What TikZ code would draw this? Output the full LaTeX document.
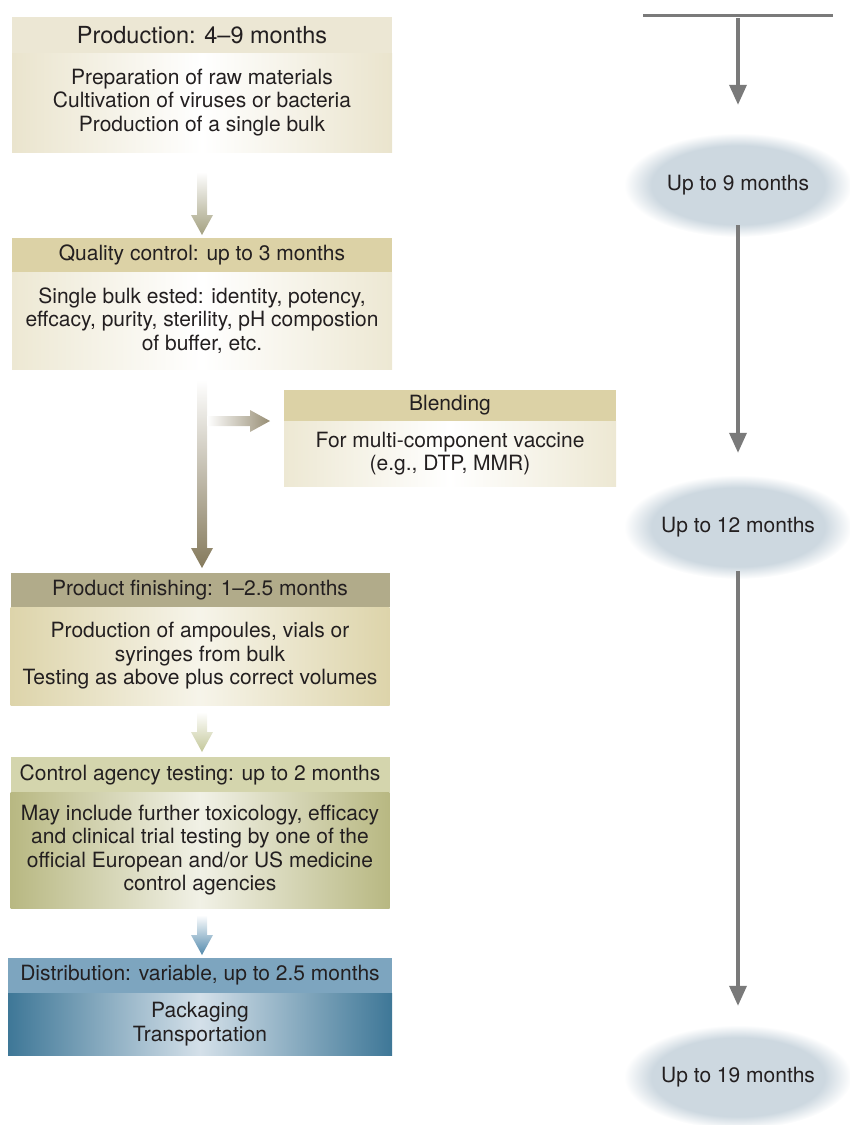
\documentclass[tikz,border=0pt]{standalone}
\usepackage{fontspec}
\setmainfont{TeX Gyre Heros}
\usetikzlibrary{calc,positioning,shapes.geometric,arrows.meta}

\definecolor{inktext}{RGB}{35,31,32}
\definecolor{prodhd}{RGB}{236,231,212}
\definecolor{prodbd}{RGB}{234,228,205}
\definecolor{qchd}{RGB}{220,210,166}
\definecolor{qcbd}{RGB}{237,232,211}
\definecolor{finhd}{RGB}{177,171,138}
\definecolor{finbd}{RGB}{221,212,170}
\definecolor{agyhd}{RGB}{212,213,173}
\definecolor{agybd}{RGB}{184,184,130}
\definecolor{disthd}{RGB}{125,165,191}
\definecolor{distbd}{RGB}{62,119,151}
\definecolor{distmid}{RGB}{212,224,233}
\definecolor{timefill}{RGB}{205,216,224}
\definecolor{timeline}{RGB}{122,122,122}
\definecolor{arrA}{RGB}{163,160,128}
\definecolor{arrB}{RGB}{133,122,92}
\definecolor{arrC}{RGB}{195,199,153}
\definecolor{arrD}{RGB}{82,137,172}

\newcommand\stagefont{\fontsize{21pt}{23.5pt}\selectfont}
\newcommand\stagebigfont{\fontsize{23.5pt}{26pt}\selectfont}

\pgfdeclareradialshading{timeglow}{\pgfpoint{0bp}{0bp}}{%
  color(0bp)=(timefill); color(19bp)=(timefill);
  color(25bp)=(white); color(50bp)=(white)}

% thick faded arrows between the stages
\newcommand\fatdown[3]{%
  \shade[top color=white, bottom color=#3]
    ($(#1)+(-5,0)$) -- ($(#2)+(-5,20)$) -- ($(#2)+(-11,20)$) -- (#2)
    -- ($(#2)+(11,20)$) -- ($(#2)+(5,20)$) -- ($(#1)+(5,0)$) -- cycle;}
\newcommand\fatright[3]{%
  \shade[left color=white, right color=#3]
    ($(#1)+(0,5)$) -- ($(#2)+(-20,5)$) -- ($(#2)+(-20,11)$) -- (#2)
    -- ($(#2)+(-20,-11)$) -- ($(#2)+(-20,-5)$) -- ($(#1)+(0,-5)$) -- cycle;}

\begin{document}
\begin{tikzpicture}[x=1pt,y=1pt,
  stagehd/.style={inner sep=0pt, outer sep=0pt, align=center,
    text=inktext, font=\stagefont},
  stagebd/.style={inner sep=0pt, outer sep=0pt, align=center,
    text=inktext, font=\stagefont},
  timebox/.style={ellipse, minimum width=228pt, minimum height=104pt,
    inner sep=0pt, shade, shading=timeglow, text=inktext, font=\stagefont},
  timearrow/.style={line width=3.5pt, timeline,
    -{Triangle[length=20pt,width=17pt]}}]

  \useasboundingbox (0,0) rectangle (850,-1125);

  % stages
  \node[stagehd, minimum width=380pt, minimum height=36pt, fill=prodhd,
    font=\stagebigfont] (prodhd) at (202,-35) {Production: 4--9 months};
  \node[stagebd, minimum width=380pt, minimum height=99pt, below=0pt of prodhd,
    left color=prodbd, right color=prodbd, middle color=white] (prod)
    {Preparation of raw materials\\Cultivation of viruses or bacteria\\Production of a single bulk};

  \node[stagehd, minimum width=380pt, minimum height=34pt, fill=qchd]
    (qchd) at (202,-255) {Quality control: up to 3 months};
  \node[stagebd, minimum width=380pt, minimum height=97pt, below=0pt of qchd,
    left color=qcbd, right color=qcbd, middle color=white] (qc)
    {Single bulk ested: identity, potency,\\effcacy, purity, sterility, pH compostion\\of buffer, etc.};

  \node[stagehd, minimum width=332pt, minimum height=31pt, fill=qchd]
    (blendhd) at (450,-405.5) {Blending};
  \node[stagebd, minimum width=332pt, minimum height=65pt, below=0pt of blendhd,
    left color=qcbd, right color=qcbd, middle color=white] (blend)
    {For multi-component vaccine\\(e.g., DTP, MMR)};

  \node[stagehd, minimum width=379pt, minimum height=34pt, fill=finhd]
    (finhd) at (200,-590) {Product finishing: 1--2.5 months};
  \node[stagebd, minimum width=379pt, minimum height=98pt, below=0pt of finhd,
    left color=finbd, right color=finbd, middle color=finbd!25] (fin)
    {Production of ampoules, vials or\\syringes from bulk\\Testing as above plus correct volumes};

  \node[stagehd, minimum width=379pt, minimum height=35pt, fill=agyhd]
    (agyhd) at (200,-774.5) {Control agency testing: up to 2 months};
  \node[stagebd, minimum width=379pt, minimum height=116pt, below=0pt of agyhd,
    left color=agybd, right color=agybd, middle color=agybd!20] (agy)
    {May include further toxicology, efficacy\\and clinical trial testing by one of the\\official European and/or US medicine\\control agencies};

  \node[stagehd, minimum width=384pt, minimum height=35pt, fill=disthd]
    (disthd) at (200,-975.5) {Distribution: variable, up to 2.5 months};
  \node[stagebd, minimum width=384pt, minimum height=62pt, below=0pt of disthd,
    left color=distbd, right color=distbd, middle color=distmid] (dist)
    {Packaging\\Transportation};

  % flow arrows
  \coordinate (a1s) at ($(prod.south)+(0,-20)$);
  \coordinate (a1e) at ($(qchd.north)+(0,3)$);
  \fatdown{a1s}{a1e}{arrA}
  \coordinate (a2s) at ($(qc.south)+(0,-11)$);
  \coordinate (a2e) at ($(finhd.north)+(2,5)$);
  \fatdown{a2s}{a2e}{arrB}
  \coordinate (brtip) at ($(blendhd.south west)+(-14,0)$);
  \coordinate (brs) at ($(a2s |- brtip)+(5,0)$);
  \fatright{brs}{brtip}{arrB!85}
  \coordinate (a3s) at ($(fin.south)+(2,-7)$);
  \coordinate (a3e) at ($(agyhd.north)+(2,5)$);
  \fatdown{a3s}{a3e}{arrC}
  \coordinate (a4s) at ($(agy.south)+(2,-7)$);
  \coordinate (a4e) at ($(disthd.north)+(2,3)$);
  \fatdown{a4s}{a4e}{arrD}

  % time line
  \coordinate (tl) at (643,-15);
  \coordinate (tr) at (833,-15);
  \coordinate (tm) at (738,-18);
  \draw[line width=3pt, timeline] (tl) -- (tr);
  \node[timebox] (t9) at (738,-185) {Up to 9 months};
  \node[timebox] (t12) at (738,-527) {Up to 12 months};
  \node[timebox] (t19) at (738,-1077) {Up to 19 months};
  \draw[timearrow, shorten >=28pt] (tm) -- (t9);
  \draw[timearrow, shorten <=-12pt, shorten >=22pt] (t9) -- (t12);
  \draw[timearrow, shorten <=-8pt, shorten >=19pt] (t12) -- (t19);
\end{tikzpicture}
\end{document}
